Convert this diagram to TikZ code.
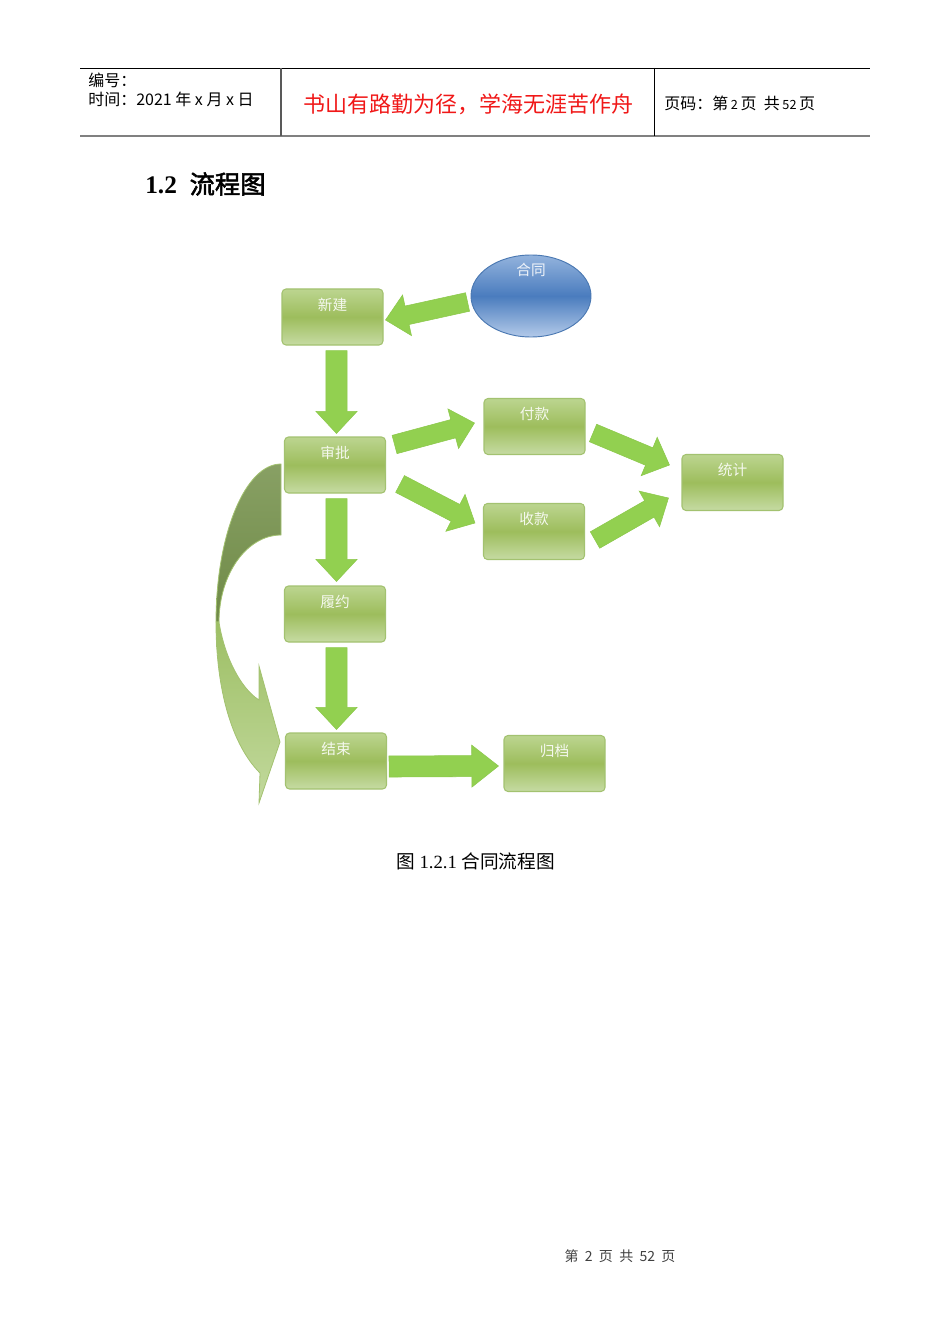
\documentclass[tikz,border=0pt]{standalone}
\usepackage{fontspec}
\setmainfont{Liberation Serif}
\newfontfamily\cjk{Noto Sans CJK SC}[AutoFakeBold=2]
\usetikzlibrary{calc,shapes.geometric}
\definecolor{arrowgreen}{HTML}{92D050}
\definecolor{arrowedge}{HTML}{8CC84B}
\definecolor{boxtop}{HTML}{BCD590}
\definecolor{boxmid}{HTML}{9DBD5C}
\definecolor{boxbot}{HTML}{C6DBA3}
\definecolor{boxedge}{HTML}{A3C270}
\definecolor{elltop}{HTML}{93B3DD}
\definecolor{ellmid}{HTML}{4A7CBE}
\definecolor{ellbot}{HTML}{B3CAE9}
\definecolor{elledge}{HTML}{4A78B2}
\definecolor{darkolive}{HTML}{6F8A47}
\definecolor{darkolivetop}{HTML}{88A064}
\definecolor{lighttop}{HTML}{9DBF64}
\definecolor{lightbot}{HTML}{C2D99D}
\definecolor{headred}{HTML}{F01818}
\newcommand\barw[5]{%
  \coordinate (bh) at ($(#2)!#5!(#1)$);
  \filldraw[bigarrow] ($(#1)!#3!90:(#2)$) -- ($(bh)!#3!90:(#2)$) -- ($(bh)!#4!90:(#2)$) -- (#2) -- ($(bh)!#4!-90:(#2)$) -- ($(bh)!#3!-90:(#2)$) -- ($(#1)!#3!-90:(#2)$) -- cycle;}
\tikzset{
  box/.style={rectangle, rounded corners=3pt, minimum width=75.75pt, minimum height=42pt, inner sep=0pt,
    draw=boxedge, line width=0.8pt, top color=boxtop, bottom color=boxbot, middle color=boxmid},
  boxtxt/.style={font=\cjk\fontsize{11}{13}\selectfont, text=white, text opacity=0.88, inner sep=0pt},
  bigarrow/.style={fill=arrowgreen, draw=arrowedge, line width=0.4pt},
  hdr/.style={font=\cjk\fontsize{12}{14}\selectfont, inner sep=0pt, anchor=west},
}
\begin{document}
\begin{tikzpicture}[x=0.75pt,y=-0.75pt]
\useasboundingbox (0,0) rectangle (950,1344);
% header
\draw[black, line width=0.7pt] (80,68) -- (870,68);
\draw[gray, line width=1.5pt] (80,136) -- (870,136);
\draw[gray!70!black, line width=1.2pt] (281,68) -- (281,136);
\draw[black, line width=0.6pt] (654,68) -- (654,136);
\node[hdr] (bh1) at (88,80) {编号：};
\node[hdr] (bh2) at (88,99) {时间：2021 年 x 月 x 日};
\node[font=\cjk\fontsize{16.5}{19}\selectfont, text=headred, inner sep=0pt] (motto) at (468,104) {书山有路勤为径，学海无涯苦作舟};
\node[hdr] (pg) at (664,103) {页码：第\,{\fontsize{9.5}{11}\selectfont 2}\,页\ \ 共\,{\fontsize{9.5}{11}\selectfont 52}\,页};
% title
\node[anchor=west, inner sep=0pt] (title) at (145,184) {\fontsize{19}{23}\selectfont\bfseries 1.2\ \ {\cjk 流程图}};
% ellipse
\node[ellipse, minimum width=90pt, minimum height=61.5pt, inner sep=0pt, draw=elledge, line width=0.7pt,
  top color=elltop, bottom color=ellbot, middle color=ellmid] (hetong) at (531,296) {};
\node[boxtxt] (hetong-t) at ($(hetong.north)+(0,15)$) {合同};
% boxes
\node[box] (xinjian) at (332.5,317) {};
\node[box] (shenpi) at (335,465) {};
\node[box] (fukuan) at (534.5,426.5) {};
\node[box] (shoukuan) at (534,531.5) {};
\node[box] (tongji) at (732.5,482.5) {};
\node[box] (lvyue) at (335,614) {};
\node[box] (jieshu) at (336,761) {};
\node[box] (guidang) at (554.5,763.5) {};
\foreach \n/\t in {xinjian/新建, shenpi/审批, fukuan/付款, shoukuan/收款, tongji/统计, lvyue/履约, jieshu/结束, guidang/归档}
  \node[boxtxt] (\n-t) at ($(\n.north)+(0,16)$) {\t};
% arrow end points
\coordinate (a1s) at ($(hetong.west)+(-3,6)$);
\coordinate (a1e) at ($(xinjian.east)+(2,3)$);
\coordinate (a2s) at ($(xinjian.south)+(4,5)$);
\coordinate (a2e) at ($(shenpi.north)+(1.5,-3)$);
\coordinate (a3s) at ($(shenpi.east)+(8.5,-20.5)$);
\coordinate (a3e) at ($(fukuan.west)+(-9,-3.5)$);
\coordinate (a4s) at ($(shenpi.east)+(14,19)$);
\coordinate (a4e) at ($(shoukuan.west)+(-8,-8.5)$);
\coordinate (a5s) at ($(fukuan.east)+(7.5,6.5)$);
\coordinate (a5e) at ($(tongji.west)+(-12,-17.5)$);
\coordinate (a6s) at ($(shoukuan.east)+(10,8.5)$);
\coordinate (a6e) at ($(tongji.west)+(-13,15.5)$);
\coordinate (a7s) at ($(shenpi.south)+(1.5,5)$);
\coordinate (a7e) at ($(lvyue.north)+(1.5,-4)$);
\coordinate (a8s) at ($(lvyue.south)+(1.5,5)$);
\coordinate (a8e) at ($(jieshu.north)+(0.5,-3)$);
\coordinate (a9s) at ($(jieshu.east)+(2,5.5)$);
\coordinate (a9e) at ($(guidang.west)+(-5,2.5)$);
\barw{a1s}{a1e}{7.1pt}{15.6pt}{16.5pt}
\barw{a2s}{a2e}{7.9pt}{15.4pt}{16.5pt}
\barw{a3s}{a3e}{7.1pt}{15.4pt}{16.5pt}
\barw{a4s}{a4e}{7.1pt}{15.6pt}{16.5pt}
\barw{a5s}{a5e}{7.1pt}{15.6pt}{16.5pt}
\barw{a6s}{a6e}{7.1pt}{15.4pt}{16.5pt}
\barw{a7s}{a7e}{7.9pt}{15.4pt}{16.5pt}
\barw{a8s}{a8e}{7.9pt}{15.4pt}{16.5pt}
\barw{a9s}{a9e}{7.9pt}{15.75pt}{20pt}
% curved arrow
\path[draw=boxedge, line width=0.6pt, top color=darkolivetop, bottom color=darkolive]
  (281,464) .. controls (245,464) and (216,535) .. (216,622) -- (219,622)
  .. controls (219,574) and (247,535) .. (281,535) -- cycle;
\path[draw=boxedge, line width=0.6pt, top color=lighttop, bottom color=lightbot]
  (216,622) -- (219,622) .. controls (224,655) and (240,688) .. (259,700) -- (259,666) -- (280,742)
  -- (259,803) -- (260,773) .. controls (232,745) and (216,690) .. (216,622) -- cycle;
% caption
\node[inner sep=0pt] (caption) at (475.5,861) {\fontsize{14}{17}\selectfont{\cjk 图} 1.2.1 {\cjk 合同流程图}};
% footer
\node[inner sep=0pt, text=black!75] (footer) at (620,1256) {\cjk\fontsize{10.5}{12}\selectfont 第\ \ 2\ \ 页\ \ 共\ \ 52\ \ 页};
\end{tikzpicture}
\end{document}
